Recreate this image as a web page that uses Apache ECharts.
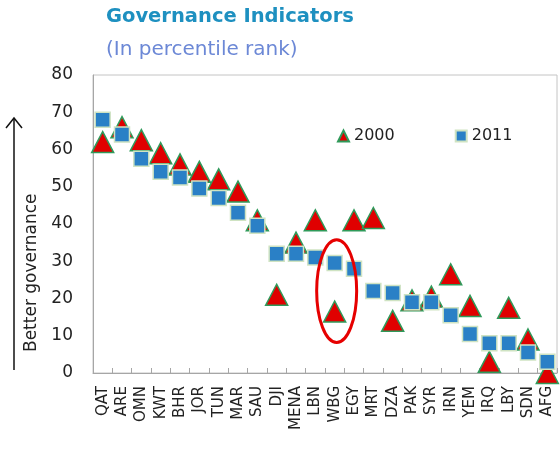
<!DOCTYPE html>
<html>
<head>
<meta charset="utf-8">
<script src="https://cdn.jsdelivr.net/npm/echarts@6/dist/echarts.min.js"></script>
<style>
  html, body { margin: 0; padding: 0; background: #fff; }
  #chart { width: 560px; height: 456px; }
</style>
</head>
<body>
<div id="chart"></div>
<script>
const countries = ["QAT", "ARE", "OMN", "KWT", "BHR", "JOR", "TUN", "MAR", "SAU", "DJI", "MENA", "LBN",
  "WBG", "EGY", "MRT", "DZA", "PAK", "SYR", "IRN", "YEM", "IRQ", "LBY", "SDN", "AFG"]
const rank2000 = [62, 66, 62.5, 59, 56, 54, 52, 48.7, 41, 21, 35, 41,
  16.5, 41, 41.6, 14, 19.5, 20.5, 26.5, 18, 3, 17.5, 9, 0]
const rank2011 = [68, 64, 57.5, 54, 52.5, 49.5, 47, 43, 39.5, 32, 32, 31,
  29.5, 28, 22, 21.5, 19, 19, 15.5, 10.5, 8, 8, 5.5, 3]
const yTicks = { min: 0, max: 80, interval: 10 }

const chart = echarts.init(document.getElementById("chart"))
const font = "'DejaVu Sans', Verdana, sans-serif"

chart.setOption({
  animation: false,
  textStyle: { fontFamily: font },
  grid: { left: 93, right: 3, top: 75, bottom: 83, show: true, borderColor: "#c4c4c4", borderWidth: 1 },
  legend: {
    left: 332, top: 123, itemGap: 60, itemWidth: 11, itemHeight: 11,
    textStyle: { fontSize: 16, color: "#222", fontFamily: font },
    data: [
      { name: "2000", icon: "triangle" },
      { name: "2011", icon: "rect" },
    ],
  },
  xAxis: {
    type: "category",
    data: countries,
    axisLine: { lineStyle: { color: "#a6a6a6" } },
    axisTick: { show: true, inside: true, length: 5, lineStyle: { color: "#a6a6a6" } },
    axisLabel: { rotate: 90, interval: 0, fontSize: 15, color: "#222", margin: 13 },
  },
  yAxis: {
    type: "value",
    ...yTicks,
    axisLine: { show: true, lineStyle: { color: "#a6a6a6" } },
    axisTick: { show: false },
    splitLine: { show: false },
    axisLabel: { fontSize: 17, color: "#222", margin: 20 },
  },
  series: [
    {
      name: "2000", type: "scatter", data: rank2000, symbol: "triangle", symbolSize: [22, 21],
      clip: false, z: 2,
      itemStyle: { color: "#e00000", borderColor: "#2f9a5a", borderWidth: 1.5, opacity: 1 },
    },
    {
      name: "2011", type: "scatter", data: rank2011, symbol: "rect", symbolSize: 15,
      clip: false, z: 3,
      itemStyle: { color: "#2a80c6", borderColor: "#cfe3c2", borderWidth: 1.5, opacity: 1 },
    },
  ],
  graphic: [
    { id: "title", type: "text", left: 106, top: 7, style: { text: "Governance Indicators", fontSize: 19.5, fontWeight: "bold", fill: "#1e90c0", fontFamily: font } },
    { id: "sub", type: "text", left: 106, top: 40, style: { text: "(In percentile rank)", fontSize: 20, fill: "#6c88d6", fontFamily: font } },
    { id: "ylabel", type: "text", x: 23, y: 352, rotation: Math.PI / 2, style: { text: "Better governance", fontSize: 17, fill: "#222", fontFamily: font } },
    { id: "arrow", type: "line", shape: { x1: 14, y1: 370, x2: 14, y2: 118 }, style: { stroke: "#111", lineWidth: 1.5 } },
    { id: "head", type: "polyline", shape: { points: [[6, 128], [14, 118], [22, 128]] }, style: { stroke: "#111", lineWidth: 1.5, fill: null } },
  ],
})

// red ellipse around WBG, placed through the axes
const mid = chart.convertToPixel({ gridIndex: 0 }, ["WBG", 22])
const upper = chart.convertToPixel({ gridIndex: 0 }, ["WBG", 35.8])
chart.setOption({
  graphic: [{
    id: "ring", type: "ellipse", z: 10,
    shape: { cx: mid[0] + 2, cy: mid[1], rx: 20, ry: mid[1] - upper[1] },
    style: { fill: null, stroke: "#e60000", lineWidth: 3 },
  }],
})
</script>
</body>
</html>
